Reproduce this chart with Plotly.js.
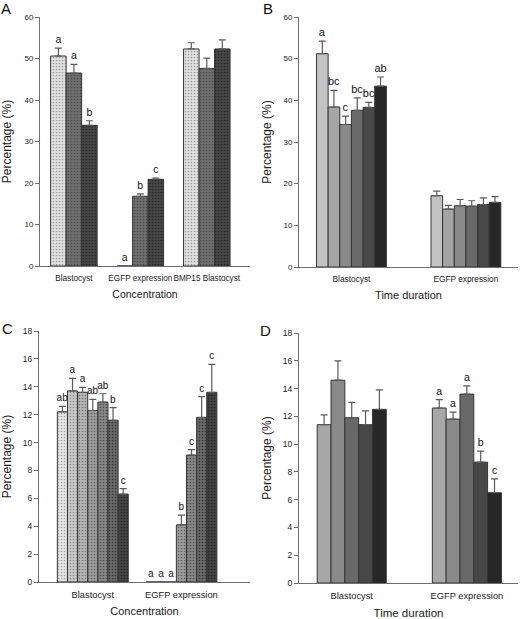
<!DOCTYPE html>
<html><head><meta charset="utf-8">
<script src="https://cdn.plot.ly/plotly-3.0.1.min.js"></script>
<style>
html,body{margin:0;padding:0;background:#fff;}
#wrap{position:relative;width:520px;height:619px;overflow:hidden;background:#fff;}
.p{position:absolute;}
</style></head><body>
<div id="wrap">
<div id="pA" class="p" style="left:0;top:0;width:260px;height:310px"></div>
<div id="pB" class="p" style="left:260px;top:0;width:260px;height:310px"></div>
<div id="pC" class="p" style="left:0;top:310px;width:260px;height:309px"></div>
<div id="pD" class="p" style="left:260px;top:310px;width:260px;height:309px"></div>
</div>
<script>
// ---------- Panel A (concentration) ----------
const aCategories = ["Blastocyst", "EGFP expression", "BMP15 Blastocyst"];
const aLevel1 = [50.6, 0, 52.3];
const aLevel2 = [46.5, 16.8, 47.6];
const aLevel3 = [33.9, 20.9, 52.3];
const aErr1 = [1.9, 0, 1.5];
const aErr2 = [2.1, 0.6, 2.5];
const aErr3 = [1.1, 0.3, 2.2];
const aLetters1 = ["a", "a", ""];
const aLetters2 = ["a", "b", ""];
const aLetters3 = ["b", "c", ""];

// ---------- Panel B (time duration) ----------
const bCategories = ["Blastocyst", "EGFP expression"];
const bBlastocyst = [51.2, 38.4, 34.2, 37.6, 38.3, 43.4];
const bBlastocystErr = [3.0, 4.0, 2.0, 3.0, 1.2, 2.2];
const bBlastocystLetters = ["a", "bc", "c", "bc", "bc", "ab"];
const bEgfp = [17.1, 13.9, 14.7, 14.6, 15.0, 15.5];
const bEgfpErr = [1.1, 0.9, 1.5, 1.3, 1.6, 1.4];
const bEgfpLetters = ["", "", "", "", "", ""];

// ---------- Panel C (concentration) ----------
const cCategories = ["Blastocyst", "EGFP expression"];
const cBlastocyst = [12.2, 13.7, 13.6, 12.3, 12.9, 11.6, 6.3];
const cBlastocystErr = [0.4, 0.9, 0.35, 0.8, 0.6, 0.9, 0.4];
const cBlastocystLetters = ["ab", "a", "a", "ab", "ab", "b", "c"];
const cEgfp = [0, 0, 0, 4.1, 9.1, 11.8, 13.6];
const cEgfpErr = [0, 0, 0, 0.7, 0.4, 1.5, 2.0];
const cEgfpLetters = ["a", "a", "a", "b", "c", "c", "c"];

// ---------- Panel D (time duration) ----------
const dCategories = ["Blastocyst", "EGFP expression"];
const dBlastocyst = [11.4, 14.6, 11.9, 11.4, 12.5];
const dBlastocystErr = [0.7, 1.4, 1.1, 1.0, 1.4];
const dBlastocystLetters = ["", "", "", "", ""];
const dEgfp = [12.6, 11.8, 13.6, 8.7, 6.5];
const dEgfpErr = [0.6, 0.5, 0.6, 0.8, 1.0];
const dEgfpLetters = ["a", "a", "a", "b", "c"];

const FONT = "Liberation Sans, Arial, Helvetica, sans-serif";
const AXIS = "#6f6f6f";

function traces(cats, vals, errs, lets, colors, dots, letterSize) {
  const out = [];
  vals.forEach((v, j) => {
    const marker = {color: colors[j], line: {color: "#353535", width: 1}};
    if (dots) marker.pattern = {shape: ".", fgcolor: dots[j], bgcolor: colors[j], size: 3, solidity: 0.25, fillmode: "replace"};
    out.push({type: "bar", x: cats, y: v, offsetgroup: "g" + j, marker: marker,
      error_y: {type: "data", symmetric: false, array: errs[j], arrayminus: errs[j].map(() => 0),
        color: "#5a5a5a", thickness: 1.2, width: 3.5},
      hoverinfo: "skip"});
  });
  vals.forEach((v, j) => {
    out.push({type: "bar", x: cats, y: v.map((val, i) => val + errs[j][i]), offsetgroup: "g" + j,
      marker: {color: "rgba(0,0,0,0)", line: {width: 0}}, text: lets[j], textposition: "outside",
      textfont: {family: FONT, size: letterSize, color: "#111"}, constraintext: "none", cliponaxis: false,
      hoverinfo: "skip"});
  });
  return out;
}

function byLevel(blast, egfp) { return blast.map((b, j) => [b, egfp[j]]); }

function layout(o) {
  return {
    width: o.w, height: o.h, margin: o.m, paper_bgcolor: "rgba(0,0,0,0)", plot_bgcolor: "rgba(0,0,0,0)",
    barmode: "group", bargap: o.bargap, bargroupgap: 0, showlegend: false,
    font: {family: FONT, color: "#1a1a1a"},
    xaxis: {type: "category", range: o.xr, showline: true, linecolor: AXIS, linewidth: 1, ticks: "",
      showgrid: false, zeroline: false, fixedrange: true, automargin: false, tickangle: 0,
      tickfont: {size: o.catSize, color: "#1a1a1a"}, ticklabelstandoff: o.catOff,
      title: {text: o.xtitle, font: {size: o.xtSize, color: "#1a1a1a"}, standoff: o.xtOff}},
    yaxis: {range: o.yr, dtick: o.dtick, tick0: 0, ticks: "outside", ticklen: 4, tickcolor: AXIS, tickwidth: 1,
      showline: true, linecolor: AXIS, linewidth: 1, showgrid: false, zeroline: false, fixedrange: true, automargin: false,
      tickfont: {size: o.tickSize, color: "#1a1a1a"},
      title: {text: "Percentage (%)", font: {size: 12, color: "#1a1a1a"}, standoff: o.ytOff}},
    annotations: [{text: o.letter, xref: "paper", yref: "paper", x: o.lx, y: o.ly, xanchor: "center", yanchor: "middle",
      showarrow: false, font: {family: FONT, size: 15, color: "#111"}}]
  };
}

const cfg = {staticPlot: true, displayModeBar: false};

// A
Plotly.newPlot("pA",
  traces(aCategories, [aLevel1, aLevel2, aLevel3], [aErr1, aErr2, aErr3], [aLetters1, aLetters2, aLetters3],
    ["#e2e2e2", "#707070", "#474747"], ["#9c9c9c", "#4a4a4a", "#262626"], 10.5),
  layout({w: 260, h: 310, m: {l: 40, r: 10, t: 16.7, b: 44}, bargap: 0.3, xr: [-0.51, 2.65], yr: [0, 60], dtick: 10,
    xtitle: "Concentration", catSize: 8.2, catOff: 4, xtSize: 10.5, xtOff: 8, tickSize: 8, ytOff: 10,
    letter: "A", lx: -0.162, ly: 1.035}), cfg);

// B
Plotly.newPlot("pB",
  traces(bCategories, byLevel(bBlastocyst, bEgfp), byLevel(bBlastocystErr, bEgfpErr), byLevel(bBlastocystLetters, bEgfpLetters),
    ["#c3c3c3", "#a4a4a4", "#898989", "#6a6a6a", "#494949", "#272727"], null, 11),
  layout({w: 260, h: 310, m: {l: 39.3, r: 2, t: 16.7, b: 43.3}, bargap: 0.39, xr: [-0.458, 1.455], yr: [0, 60], dtick: 10,
    xtitle: "Time duration", catSize: 8.3, catOff: 4, xtSize: 11, xtOff: 8, tickSize: 8, ytOff: 10,
    letter: "B", lx: -0.14, ly: 1.035}), cfg);

// C
Plotly.newPlot("pC",
  traces(cCategories, byLevel(cBlastocyst, cEgfp), byLevel(cBlastocystErr, cEgfpErr), byLevel(cBlastocystLetters, cEgfpLetters),
    ["#e6e6e6", "#cacaca", "#b6b6b6", "#9e9e9e", "#888888", "#696969", "#444444"],
    ["#a8a8a8", "#8c8c8c", "#787878", "#626262", "#4e4e4e", "#383838", "#222222"], 10),
  layout({w: 260, h: 309, m: {l: 39.3, r: 10, t: 21.3, b: 37.3}, bargap: 0.2, xr: [-0.607, 1.774], yr: [0, 18], dtick: 2,
    xtitle: "Concentration", catSize: 9.3, catOff: 4, xtSize: 11, xtOff: 8, tickSize: 8.5, ytOff: 10,
    letter: "C", lx: -0.15, ly: 1.01}), cfg);

// D
Plotly.newPlot("pD",
  traces(dCategories, byLevel(dBlastocyst, dEgfp), byLevel(dBlastocystErr, dEgfpErr), byLevel(dBlastocystLetters, dEgfpLetters),
    ["#a7a7a7", "#898989", "#686868", "#474747", "#272727"], null, 10.5),
  layout({w: 260, h: 309, m: {l: 39.3, r: 2, t: 22.7, b: 36.3}, bargap: 0.4, xr: [-0.458, 1.444], yr: [0, 18], dtick: 2,
    xtitle: "Time duration", catSize: 9.3, catOff: 4, xtSize: 11.5, xtOff: 8, tickSize: 8.5, ytOff: 10,
    letter: "D", lx: -0.155, ly: 1.01}), cfg);
</script>
</body></html>
